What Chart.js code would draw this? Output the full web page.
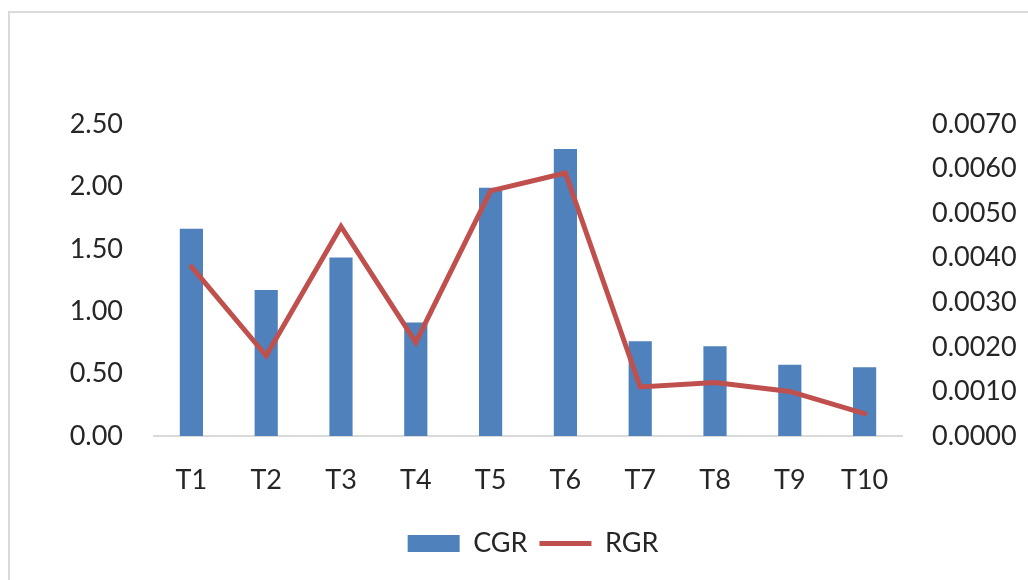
<!DOCTYPE html>
<html><head><meta charset="utf-8">
<script src="https://cdn.jsdelivr.net/npm/chart.js@4"></script>
<style>html,body{margin:0;padding:0;background:#fff}#wrap{width:1028px;height:580px;position:relative}</style>
</head><body><div id="wrap"><canvas id="c" width="1028" height="580"></canvas></div>
<script>
const categories = ['T1','T2','T3','T4','T5','T6','T7','T8','T9','T10'];
const cgrValues = [1.66, 1.17, 1.43, 0.91, 1.99, 2.30, 0.76, 0.72, 0.57, 0.55];
const rgrValues = [0.0038, 0.0018, 0.0047, 0.0021, 0.0055, 0.0059, 0.0011, 0.0012, 0.0010, 0.0005];
const leftAxis = {min: 0, max: 2.5, step: 0.5, decimals: 2};
const rightAxis = {min: 0, max: 0.007, step: 0.001, decimals: 4};

const FONT = {family: 'Lato', size: 27};
const TXT = '#262626';

const framePlugin = {
  id: 'frame',
  beforeDraw(chart) {
    const ctx = chart.ctx;
    ctx.save();
    ctx.strokeStyle = '#d9d9d9';
    ctx.lineWidth = 2;
    ctx.beginPath();
    ctx.moveTo(9, 580); ctx.lineTo(9, 12); ctx.lineTo(1028, 12);
    ctx.stroke();
    ctx.restore();
  }
};

new Chart(document.getElementById('c'), {
  data: {
    labels: categories,
    datasets: [
      {type: 'bar', label: 'CGR', data: cgrValues, yAxisID: 'y', backgroundColor: '#4f81bd',
       barPercentage: 0.31, categoryPercentage: 1.0, order: 1, pointStyle: 'rect'},
      {type: 'line', label: 'RGR', data: rgrValues, yAxisID: 'y1', borderColor: '#c0504d', backgroundColor: '#c0504d',
       borderWidth: 5, pointRadius: 0, pointHoverRadius: 0, tension: 0, order: 0, pointStyle: 'line', borderCapStyle: 'round'}
    ]
  },
  plugins: [framePlugin],
  options: {
    responsive: false,
    animation: false,
    devicePixelRatio: 1,
    layout: {padding: {left: 38, right: 0, top: 124, bottom: 13}},
    plugins: {
      tooltip: {enabled: false},
      legend: {
        position: 'bottom',
        labels: {usePointStyle: true, pointStyleWidth: 52, boxHeight: 17, font: FONT, color: TXT, padding: 12,
                 sort: (a, b) => a.datasetIndex - b.datasetIndex}
      }
    },
    scales: {
      x: {
        grid: {display: false, drawTicks: false},
        border: {display: true, color: '#d9d9d9', width: 2},
        ticks: {font: FONT, color: TXT, padding: 28, maxRotation: 0},
        afterFit(s) { s.height = 82; }
      },
      y: {
        position: 'left', min: leftAxis.min, max: leftAxis.max,
        grid: {display: false, drawTicks: false}, border: {display: false},
        ticks: {stepSize: leftAxis.step, font: FONT, color: TXT, padding: 31,
                callback: v => Number(v).toFixed(leftAxis.decimals)},
        afterFit(s) { s.width = 116; }
      },
      y1: {
        position: 'right', min: rightAxis.min, max: rightAxis.max,
        grid: {display: false, drawTicks: false}, border: {display: false},
        ticks: {stepSize: rightAxis.step, font: FONT, color: TXT, padding: 30,
                callback: v => Number(v).toFixed(rightAxis.decimals)},
        afterFit(s) { s.width = 126; }
      }
    }
  }
});
</script></body></html>
